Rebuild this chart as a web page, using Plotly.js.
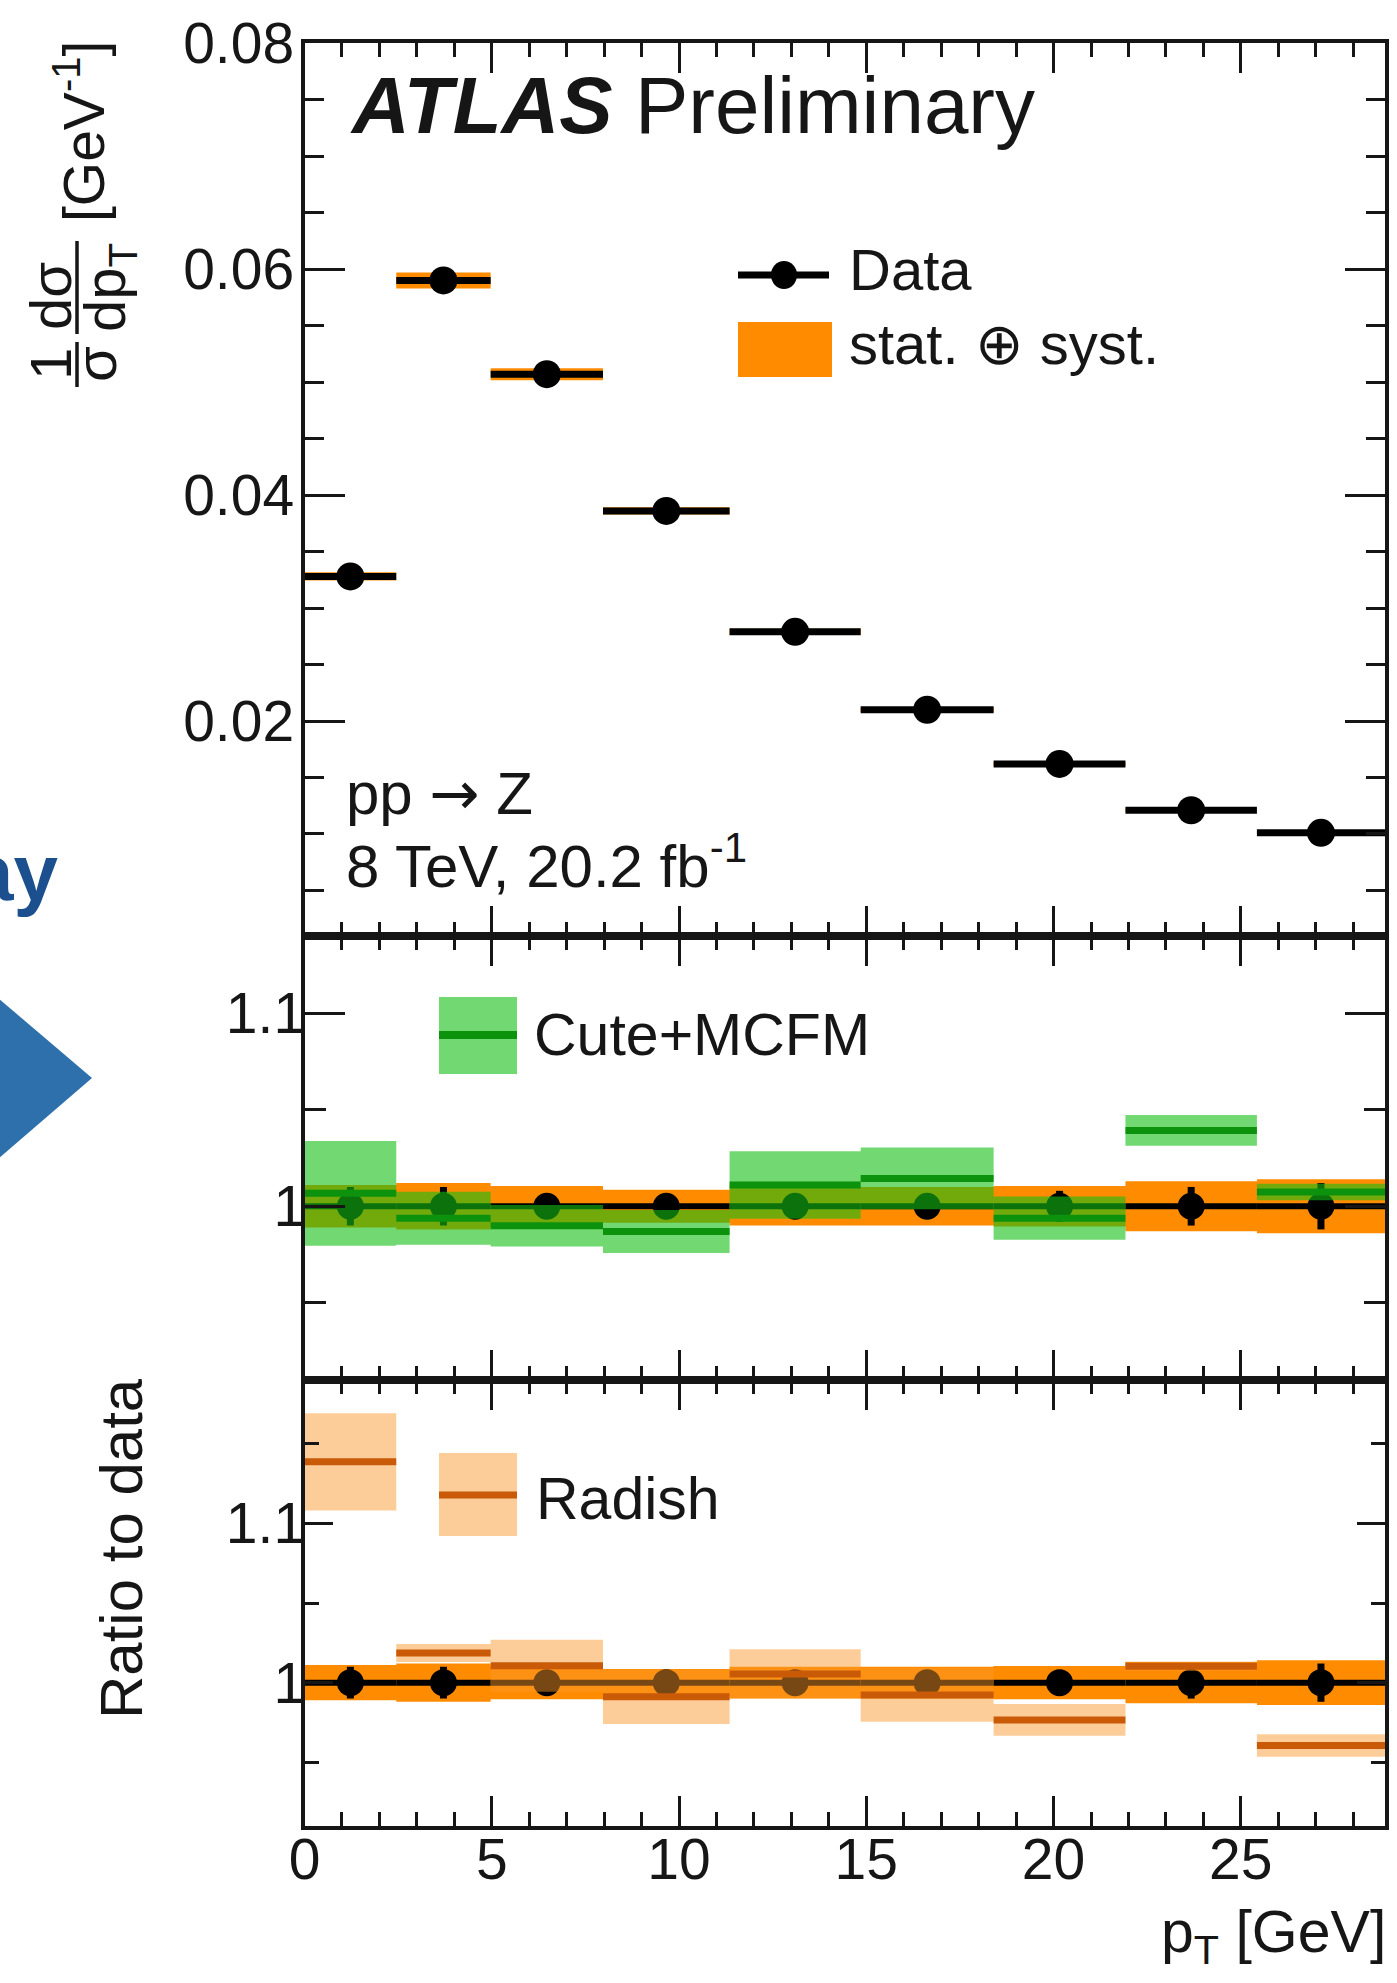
<!DOCTYPE html>
<html>
<head>
<meta charset="utf-8">
<script src="https://cdn.plot.ly/plotly-3.0.1.min.js"></script>
<style>
  html, body { margin: 0; padding: 0; background: #ffffff; }
  #chart { width: 1397px; height: 1983px; }
</style>
</head>
<body>
<div id="chart"></div>
<script>
// Z-boson transverse momentum: normalised cross section and ratios to predictions
const binEdges = [0, 2.45, 4.97, 7.97, 11.35, 14.85, 18.4, 21.92, 25.43, 28.85];

// Measured 1/sigma dsigma/dpT [GeV^-1]
const dataXsec = [0.0328, 0.0590, 0.0507, 0.0386, 0.0279, 0.0210, 0.0162, 0.0121, 0.0101];
// Relative total (stat + syst) and statistical uncertainties
const dataTotUnc = [0.0110, 0.0120, 0.0105, 0.0085, 0.0100, 0.0100, 0.0105, 0.0130, 0.0140];
const dataStatUnc = [0.0100, 0.0100, 0.0050, 0.0050, 0.0050, 0.0060, 0.0080, 0.0100, 0.0120];

// Cute+MCFM prediction / data, with relative band half-width
const cuteRatio = [1.0067, 0.9938, 0.9899, 0.9869, 1.0110, 1.0144, 0.9938, 1.0393, 1.0074];
const cuteUnc   = [0.0271, 0.0137, 0.0107, 0.0111, 0.0175, 0.0160, 0.0112, 0.0080, 0.0043];

// Radish prediction / data, with relative band half-width
const radishRatio = [1.1386, 1.0186, 1.0106, 0.9912, 1.0055, 0.9923, 0.9766, 1.0103, 0.9605];
const radishUnc   = [0.0306, 0.0056, 0.0163, 0.0171, 0.0155, 0.0168, 0.0100, 0.0030, 0.0071];

const xMajorTicks = [0, 5, 10, 15, 20, 25];

// ---------------------------------------------------------------------------
const W = 1397, H = 1983;
const px = v => v / W;          // pixel column -> paper x
const py = v => 1 - v / H;      // pixel row    -> paper y

const FONT = 'Liberation Sans, Arial, Helvetica, sans-serif';
const INK = '#161616';
const ORANGE = '#ff8c00';
const GREEN_BAND = 'rgba(20,190,20,0.6)';
const GREEN_LINE = '#0d920d';
const RADISH_BAND = 'rgba(250,150,42,0.48)';
const RADISH_LINE = '#c95a08';

const nBins = dataXsec.length;
const lo = binEdges.slice(0, nBins);
const hi = binEdges.slice(1);
const centers = lo.map((l, i) => 0.5 * (l + hi[i]));
const dataRatio = dataXsec.map(v => v / v);

// closed rectangles per bin, separated by gaps, for fill:'toself'
function binBoxes(low, high) {
  const x = [], y = [];
  for (let i = 0; i < nBins; i++) {
    x.push(lo[i], hi[i], hi[i], lo[i], lo[i], null);
    y.push(low[i], low[i], high[i], high[i], low[i], null);
  }
  return { x, y };
}
// horizontal segment per bin
function binSteps(vals) {
  const x = [], y = [];
  for (let i = 0; i < nBins; i++) {
    x.push(lo[i], hi[i], null);
    y.push(vals[i], vals[i], null);
  }
  return { x, y };
}

function bandTrace(low, high, color, xa, ya) {
  const b = binBoxes(low, high);
  return { type: 'scatter', mode: 'lines', x: b.x, y: b.y, fill: 'toself',
           fillcolor: color, line: { width: 0, color: color }, hoverinfo: 'skip',
           xaxis: xa, yaxis: ya, showlegend: false };
}
function stepTrace(vals, color, width, xa, ya) {
  const s = binSteps(vals);
  return { type: 'scatter', mode: 'lines', x: s.x, y: s.y,
           line: { color: color, width: width }, xaxis: xa, yaxis: ya,
           showlegend: false, hoverinfo: 'skip' };
}
function pointTrace(vals, errs, size, xa, ya) {
  return { type: 'scatter', mode: 'markers', x: centers, y: vals,
           marker: { color: '#000000', size: size },
           error_y: { type: 'data', array: errs, visible: true, thickness: 7,
                      width: 0, color: '#000000' },
           xaxis: xa, yaxis: ya, showlegend: false };
}

const traces = [];
// top panel
traces.push(bandTrace(dataXsec.map((v, i) => v * (1 - dataTotUnc[i])),
                      dataXsec.map((v, i) => v * (1 + dataTotUnc[i])), ORANGE, 'x', 'y'));
traces.push(stepTrace(dataXsec, '#000000', 7, 'x', 'y'));
traces.push(pointTrace(dataXsec, dataXsec.map((v, i) => v * dataStatUnc[i]), 28, 'x', 'y'));

// middle panel: Cute+MCFM
traces.push(bandTrace(dataRatio.map((v, i) => v - dataTotUnc[i]),
                      dataRatio.map((v, i) => v + dataTotUnc[i]), ORANGE, 'x2', 'y2'));
traces.push(stepTrace(dataRatio, '#000000', 6, 'x2', 'y2'));
traces.push(pointTrace(dataRatio, dataStatUnc, 27, 'x2', 'y2'));
traces.push(bandTrace(cuteRatio.map((v, i) => v - cuteUnc[i]),
                      cuteRatio.map((v, i) => v + cuteUnc[i]), GREEN_BAND, 'x2', 'y2'));
traces.push(stepTrace(cuteRatio, GREEN_LINE, 7, 'x2', 'y2'));

// bottom panel: Radish
traces.push(bandTrace(dataRatio.map((v, i) => v - dataTotUnc[i]),
                      dataRatio.map((v, i) => v + dataTotUnc[i]), ORANGE, 'x3', 'y3'));
traces.push(stepTrace(dataRatio, '#000000', 6, 'x3', 'y3'));
traces.push(pointTrace(dataRatio, dataStatUnc, 27, 'x3', 'y3'));
traces.push(bandTrace(radishRatio.map((v, i) => v - radishUnc[i]),
                      radishRatio.map((v, i) => v + radishUnc[i]), RADISH_BAND, 'x3', 'y3'));
traces.push(stepTrace(radishRatio, RADISH_LINE, 7, 'x3', 'y3'));

// ---------------------------------------------------------------------------
const xDomain = [px(304.5), px(1385)];
const tickFont = { family: FONT, size: 57, color: INK };

function xAxis(anchor, labels) {
  return {
    domain: xDomain, anchor: anchor, range: [binEdges[0], binEdges[nBins]],
    tickmode: 'array', tickvals: xMajorTicks, ticktext: xMajorTicks.map(String),
    ticks: 'inside', ticklen: 30, tickwidth: 3, tickcolor: INK,
    minor: { dtick: 1, tick0: 0, ticks: 'inside', ticklen: 14, tickwidth: 3, tickcolor: INK },
    showline: true, linewidth: 4, linecolor: INK, mirror: 'allticks',
    showgrid: false, zeroline: false, showticklabels: labels,
    tickfont: tickFont, ticklabelstandoff: -19, fixedrange: true
  };
}
function yAxis(anchor, domain, range, dtick, minorDtick, len, minorLen, fmt, standoff) {
  return {
    domain: domain, anchor: anchor, range: range,
    tick0: 0, dtick: dtick, tickformat: fmt,
    ticks: 'inside', ticklen: len, tickwidth: 3, tickcolor: INK,
    minor: { dtick: minorDtick, tick0: 0, ticks: 'inside', ticklen: minorLen, tickwidth: 3, tickcolor: INK },
    showline: true, linewidth: 4, linecolor: INK, mirror: 'allticks',
    showgrid: false, zeroline: false, tickfont: tickFont,
    ticklabelstandoff: standoff, fixedrange: true
  };
}

const topDom = [py(936), py(43)];
const midDom = [py(1380), py(936)];
const botDom = [py(1826), py(1380)];

function txt(text, x, y, size, extra) {
  return Object.assign({
    xref: 'paper', yref: 'paper', x: px(x), y: py(y), text: text, showarrow: false,
    xanchor: 'left', yanchor: 'middle',
    font: { family: FONT, size: size, color: INK }
  }, extra || {});
}
function vtxt(text, x, y, size) {
  return txt(text, x, y, size, { xanchor: 'center', yanchor: 'middle', textangle: -90 });
}

const annotations = [
  txt('<b><i>ATLAS</i></b> Preliminary', 348, 106, 80),
  txt('Data', 847, 269, 58),
  txt('stat. \u2295 syst.', 847, 343, 58),
  txt('pp <span style="font-family:DejaVu Sans">\u2192</span> Z', 344, 793, 60),
  txt('8 TeV, 20.2 fb<sup>-1</sup>', 344, 862, 60),
  txt('Cute+MCFM', 532, 1035, 59),
  txt('Radish', 534, 1499, 59),
  txt('p<sub>T</sub> [GeV]', 1388, 1936, 59, { xanchor: 'right' }),
  // vertical axis titles
  vtxt('[GeV<sup>-1</sup>]', 80, 132, 57),
  vtxt('d\u03c3', 50, 296, 58),
  vtxt('dp<sub>T</sub>', 109, 288, 58),
  vtxt('1', 50, 364, 58),
  vtxt('\u03c3', 95, 364, 58),
  vtxt('Ratio to data', 121, 1549, 60),
  // slide fragment at the left margin
  txt('<b>ay</b>', 60, 872, 80, { xanchor: 'right', font: { family: FONT, size: 80, color: '#1b4f8e' } })
];

const shapes = [
  // fraction bars of the y title
  { type: 'line', xref: 'paper', yref: 'paper', x0: px(77), x1: px(77), y0: py(241), y1: py(334),
    line: { color: INK, width: 3.5 } },
  { type: 'line', xref: 'paper', yref: 'paper', x0: px(77), x1: px(77), y0: py(342), y1: py(387),
    line: { color: INK, width: 3.5 } },
  // legend: Data
  { type: 'line', xref: 'paper', yref: 'paper', x0: px(738), x1: px(829), y0: py(275), y1: py(275),
    line: { color: '#000', width: 7 } },
  { type: 'circle', xref: 'paper', yref: 'paper', x0: px(771), x1: px(797), y0: py(261), y1: py(289),
    fillcolor: '#000', line: { width: 0 } },
  // legend: stat + syst
  { type: 'rect', xref: 'paper', yref: 'paper', x0: px(738), x1: px(832), y0: py(322), y1: py(377),
    fillcolor: ORANGE, line: { width: 0 } },
  // legend: Cute+MCFM
  { type: 'rect', xref: 'paper', yref: 'paper', x0: px(439), x1: px(517), y0: py(997), y1: py(1074),
    fillcolor: GREEN_BAND, line: { width: 0 } },
  { type: 'line', xref: 'paper', yref: 'paper', x0: px(439), x1: px(517), y0: py(1035), y1: py(1035),
    line: { color: GREEN_LINE, width: 8 } },
  // legend: Radish
  { type: 'rect', xref: 'paper', yref: 'paper', x0: px(439), x1: px(517), y0: py(1453), y1: py(1536),
    fillcolor: RADISH_BAND, line: { width: 0 } },
  { type: 'line', xref: 'paper', yref: 'paper', x0: px(439), x1: px(517), y0: py(1495), y1: py(1495),
    line: { color: RADISH_LINE, width: 7 } },
  // blue chevron at the left margin
  { type: 'path', xref: 'paper', yref: 'paper',
    path: `M ${px(-2)} ${py(998)} L ${px(92)} ${py(1078)} L ${px(-2)} ${py(1159)} Z`,
    fillcolor: '#2d70ab', line: { width: 0 } }
];

const layout = {
  width: W, height: H,
  margin: { l: 0, r: 0, t: 0, b: 0, pad: 0 },
  paper_bgcolor: '#ffffff', plot_bgcolor: 'rgba(0,0,0,0)',
  showlegend: false,
  font: { family: FONT, color: INK },
  xaxis: xAxis('y', false),
  xaxis2: xAxis('y2', false),
  xaxis3: xAxis('y3', true),
  yaxis: yAxis('x', topDom, [0.00097, 0.08002], 0.02, 0.005, 40, 19, '.2f', -5),
  yaxis2: yAxis('x2', midDom, [0.91, 1.14], 0.1, 0.05, 40, 21, '', -16),
  yaxis3: yAxis('x3', botDom, [0.91, 1.19], 0.1, 0.05, 28, 14, '', -16),
  annotations: annotations,
  shapes: shapes
};

Plotly.newPlot('chart', traces, layout, { displayModeBar: false, staticPlot: true });
</script>
</body>
</html>
